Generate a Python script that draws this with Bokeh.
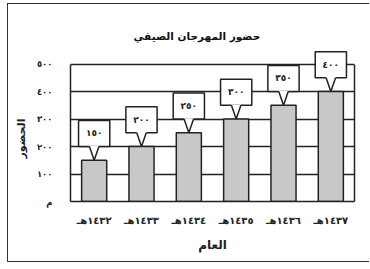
from bokeh.plotting import figure
from bokeh.models import Range1d, LinearAxis, FixedTicker, Title
from bokeh.embed import file_html
from bokeh.resources import INLINE
from bokeh.core.properties import value

# ---- data ----
years = ["١٤٣٢هـ", "١٤٣٣هـ", "١٤٣٤هـ", "١٤٣٥هـ", "١٤٣٦هـ", "١٤٣٧هـ"]
attendance = [150, 200, 250, 300, 350, 400]
callout_labels = ["١٥٠", "٢٠٠", "٢٥٠", "٣٠٠", "٣٥٠", "٤٠٠"]
y_ticks = [0, 100, 200, 300, 400, 500]
y_tick_labels = ["م", "١٠٠", "٢٠٠", "٣٠٠", "٤٠٠", "٥٠٠"]
title_text = "حضور المهرجان الصيفي"
x_title = "العام"
y_title = "الحضور"

FONT = "DejaVu Sans"
LINE = "#222222"

pos = list(range(1, len(years) + 1))

# callout geometry derived from data
gap, box_h, box_hw, ptr_hw = 50, 95, 0.33, 0.1
box_bottom = [v + gap for v in attendance]
box_top = [v + gap + box_h for v in attendance]
text_y = [v + gap + box_h / 2 for v in attendance]
ext = 3
tri_xs = [[x - ptr_hw * (gap + ext) / gap, x, x + ptr_hw * (gap + ext) / gap] for x in pos]
tri_ys = [[v + gap + ext, v, v + gap + ext] for v in attendance]
side_xs = [[x - ptr_hw, x, x + ptr_hw] for x in pos]
side_ys = [[v + gap, v, v + gap] for v in attendance]

p = figure(width=362, height=259, output_backend="svg", toolbar_location=None,
           x_range=Range1d(0.5, 6.5), y_range=Range1d(0, 571),
           min_border_left=62, min_border_right=16, min_border_top=40, min_border_bottom=62,
           outline_line_color=None,
           styles={"margin-left": "6.5px", "margin-top": "3px",
                   "border-left": "1.5px solid #333", "border-top": "1.5px solid #333",
                   "border-bottom": "1.5px solid #333"})

p.title.text = title_text
p.title.align = "left"
p.title.offset = 63
p.title.standoff = 6
p.title.text_font = FONT
p.title.text_font_size = "10.5px"
p.title.text_font_style = "bold"
p.title.text_color = "#111111"

# grid
p.xgrid.grid_line_color = None
p.ygrid.ticker = FixedTicker(ticks=y_ticks[1:])
p.ygrid.grid_line_color = LINE
p.ygrid.grid_line_width = 1.3

# y axis
p.yaxis.ticker = FixedTicker(ticks=y_ticks)
p.yaxis.major_label_overrides = {t: l for t, l in zip(y_ticks, y_tick_labels)}
p.yaxis.bounds = (0, 500)
p.yaxis.major_tick_line_color = None
p.yaxis.minor_tick_line_color = None
p.yaxis.axis_line_color = LINE
p.yaxis.axis_line_width = 1.5
p.yaxis.major_label_standoff = 12
p.yaxis.major_label_text_font = FONT
p.yaxis.major_label_text_font_size = "8.5px"
p.yaxis.major_label_text_font_style = "bold"
p.yaxis.major_label_text_color = "#222222"

right = LinearAxis(bounds=(0, 500), ticker=FixedTicker(ticks=[]),
                   major_tick_line_color=None, minor_tick_line_color=None,
                   axis_line_color=LINE, axis_line_width=1.5,
                   major_label_text_color=None)
p.add_layout(right, "right")

# x axis
p.xaxis.ticker = FixedTicker(ticks=pos)
p.xaxis.major_label_overrides = {x: y for x, y in zip(pos, years)}
p.xaxis.major_tick_line_color = None
p.xaxis.minor_tick_line_color = None
p.xaxis.axis_line_color = LINE
p.xaxis.axis_line_width = 1.5
p.xaxis.major_label_standoff = 7
p.xaxis.major_label_text_font = FONT
p.xaxis.major_label_text_font_size = "10px"
p.xaxis.major_label_text_font_style = "bold"
p.xaxis.major_label_text_color = "#222222"
p.xaxis.axis_label = x_title
p.xaxis.axis_label_standoff = 9
p.xaxis.axis_label_text_font = FONT
p.xaxis.axis_label_text_font_size = "12px"
p.xaxis.axis_label_text_font_style = "bold"
p.xaxis.axis_label_text_color = "#222222"

# y axis title as a side title (positioned along the 0-500 part)
p.add_layout(Title(text=y_title, align="left", offset=43, vertical_align="top",
                   standoff=8, text_font=FONT, text_font_size="11px",
                   text_font_style="bold", text_color="#222222"), "left")

# bars
p.vbar(x=pos, top=attendance, bottom=0, width=0.53,
       fill_color="#c8c8c8", line_color=LINE, line_width=1.5)

# callouts
p.quad(left=[x - box_hw for x in pos], right=[x + box_hw for x in pos],
       bottom=box_bottom, top=box_top,
       fill_color="white", line_color=LINE, line_width=1.5)
p.patches(xs=tri_xs, ys=tri_ys, fill_color="white", line_color=None)
p.multi_line(xs=side_xs, ys=side_ys, line_color=LINE, line_width=1.5)
p.text(x=pos, y=text_y, text=callout_labels, text_align="center", text_baseline="middle",
       text_font=value(FONT), text_font_size="9px", text_font_style="bold", text_color="#222222")

open("out.html", "w").write(file_html(p, INLINE))
